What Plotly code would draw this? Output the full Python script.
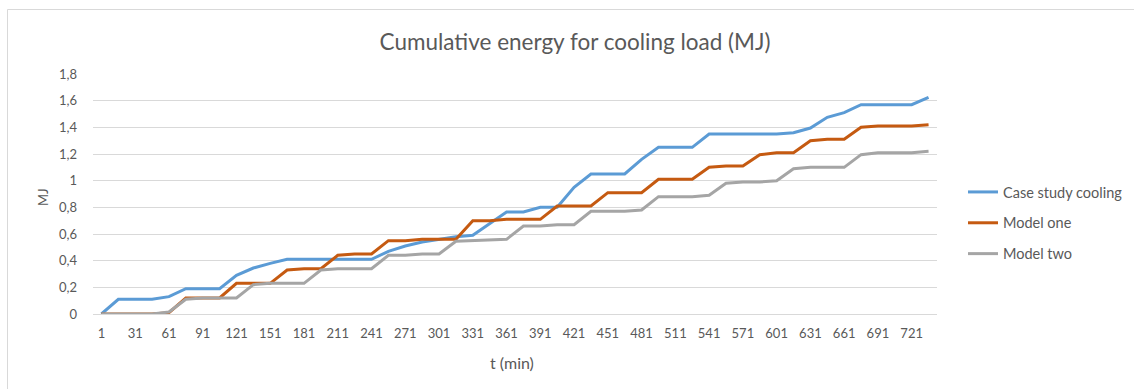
import plotly.graph_objects as go

minutes = [1, 16, 31, 46, 61, 76, 91, 106, 121, 136, 151, 166, 181, 196, 211, 226, 241, 256,
           271, 286, 301, 316, 331, 346, 361, 376, 391, 406, 421, 436, 451, 466, 481, 496,
           511, 526, 541, 556, 571, 586, 601, 616, 631, 646, 661, 676, 691, 706, 721, 736]

case_study = [0, 0.11, 0.11, 0.11, 0.13, 0.19, 0.19, 0.19, 0.29, 0.345,
              0.38, 0.41, 0.41, 0.41, 0.41, 0.41, 0.41, 0.47, 0.51, 0.54,
              0.56, 0.58, 0.59, 0.68, 0.765, 0.765, 0.80, 0.80, 0.95, 1.05,
              1.05, 1.05, 1.16, 1.25, 1.25, 1.25, 1.35, 1.35, 1.35, 1.35,
              1.35, 1.36, 1.395, 1.475, 1.51, 1.57, 1.57, 1.57, 1.57, 1.625]

model_one = [0, 0, 0, 0, 0.01, 0.12, 0.12, 0.12, 0.23, 0.23,
             0.23, 0.33, 0.34, 0.34, 0.44, 0.45, 0.45, 0.55, 0.55, 0.56,
             0.56, 0.56, 0.70, 0.70, 0.71, 0.71, 0.71, 0.81, 0.81, 0.81,
             0.91, 0.91, 0.91, 1.01, 1.01, 1.01, 1.10, 1.11, 1.11, 1.195,
             1.21, 1.21, 1.30, 1.31, 1.31, 1.40, 1.41, 1.41, 1.41, 1.42]

model_two = [0, 0, 0, 0, 0.015, 0.11, 0.12, 0.12, 0.12, 0.22,
             0.23, 0.23, 0.23, 0.33, 0.34, 0.34, 0.34, 0.44, 0.44, 0.45,
             0.45, 0.545, 0.55, 0.56, 0.56, 0.66, 0.66, 0.67, 0.67, 0.77,
             0.77, 0.77, 0.78, 0.88, 0.88, 0.88, 0.89, 0.98, 0.99, 0.99,
             1.00, 1.09, 1.10, 1.10, 1.10, 1.195, 1.21, 1.21, 1.21, 1.22]

series_names = ["Case study cooling", "Model one", "Model two"]
series_colors = ["#5B9BD5", "#C55A11", "#A5A5A5"]

x_tick_vals = [1, 31, 61, 91, 121, 151, 181, 211, 241, 271, 301, 331, 361, 391,
               421, 451, 481, 511, 541, 571, 601, 631, 661, 691, 721]
y_tick_vals = [0, 0.2, 0.4, 0.6, 0.8, 1.0, 1.2, 1.4, 1.6, 1.8]
y_tick_text = ["0", "0,2", "0,4", "0,6", "0,8", "1", "1,2", "1,4", "1,6", "1,8"]

FONT = "Lato, 'Open Sans', sans-serif"
TXT = "#595959"

fig = go.Figure()
for name, vals, col in zip(series_names, [case_study, model_one, model_two], series_colors):
    fig.add_trace(go.Scatter(x=minutes, y=vals, mode="lines", name=name,
                             legendgroup=name,
                             line=dict(color=col, width=3)))

W, H = 1134, 389
ml, mr, mt, mb = 93, 197, 74, 75
pw, ph = W - ml - mr, H - mt - mb

def px_x(p):
    return (p - ml) / pw

def px_y(p):
    return (H - mb - p) / ph

fig.update_layout(
    width=W, height=H,
    margin=dict(l=ml, r=mr, t=mt, b=mb, autoexpand=False),
    paper_bgcolor="white", plot_bgcolor="white",
    font=dict(family=FONT, size=12, color=TXT),
    title=dict(text="Cumulative energy for cooling load (MJ)",
               x=575 / W, xanchor="center", y=1 - 42 / H, yanchor="middle",
               font=dict(family=FONT, size=22.5, color=TXT)),
    xaxis=dict(range=[1 - 7.5, 736 + 7.5], tickvals=x_tick_vals,
               ticktext=[str(v) for v in x_tick_vals],
               showgrid=False, zeroline=False, showline=True, linecolor="#D9D9D9",
               linewidth=1, ticks="", ticklabelstandoff=7,
               tickfont=dict(size=13, color=TXT)),
    yaxis=dict(range=[0, 1.8], tickvals=y_tick_vals, ticktext=y_tick_text,
               showgrid=True, gridcolor="#D9D9D9", gridwidth=1, zeroline=False,
               showline=False, ticks="", ticklabelstandoff=15,
               tickfont=dict(size=13, color=TXT)),
    legend=dict(x=px_x(963), xanchor="left", y=px_y(223), yanchor="middle",
                traceorder="grouped", tracegroupgap=9,
                font=dict(family=FONT, size=14.5, color=TXT),
                bgcolor="rgba(0,0,0,0)"),
    annotations=[
        dict(text="MJ", xref="paper", yref="paper", x=px_x(43), y=px_y(197),
             xanchor="center", yanchor="middle", textangle=-90, showarrow=False,
             font=dict(family=FONT, size=13, color=TXT)),
        dict(text="t (min)", xref="paper", yref="paper", x=px_x(512), y=px_y(362),
             xanchor="center", yanchor="middle", showarrow=False,
             font=dict(family=FONT, size=16, color=TXT)),
    ],
    shapes=[
        dict(type="rect", xref="paper", yref="paper",
             x0=px_x(7.5), x1=px_x(1150), y0=px_y(400), y1=px_y(9.5),
             line=dict(color="#D9D9D9", width=1), fillcolor="rgba(0,0,0,0)",
             layer="below"),
    ],
)

fig.write_html("out.html")
